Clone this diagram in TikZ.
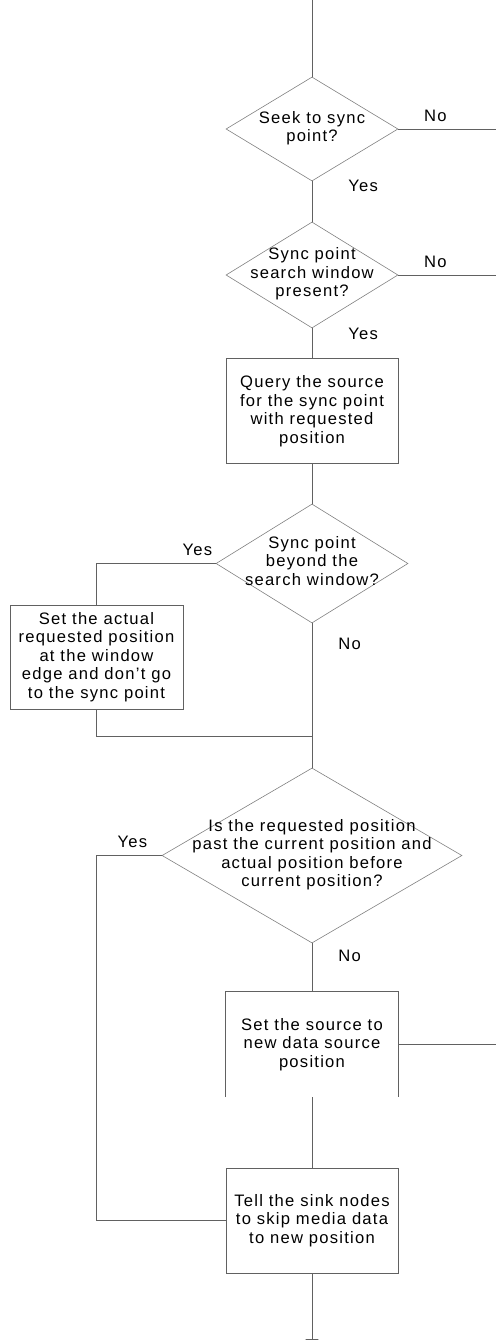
\documentclass[tikz,border=0pt]{standalone}
\usepackage{fontspec}
\setmainfont{Liberation Sans}[LetterSpace=7.5]
\usetikzlibrary{shapes.geometric,arrows.meta}
\definecolor{wire}{gray}{0.38}
\definecolor{rim}{gray}{0.5}
% text inside a diamond, kept from widening the shape
\newcommand{\qtext}[1]{\makebox[0pt]{\smash{\raisebox{-4pt}{\begin{tabular}{@{}c@{}}#1\end{tabular}}}}}

\begin{document}
\begin{tikzpicture}[x=1pt,y=-1pt,
    every node/.style={font=\fontsize{16.6}{18.5}\selectfont},
    test/.style={shape=diamond, draw=rim, line width=0.6pt, inner sep=0pt},
    task/.style={draw=wire, line width=0.8pt, minimum width=172pt, minimum height=105pt, align=center, inner sep=0pt},
    lbl/.style={inner sep=3pt},
    link/.style={draw=wire, line width=0.8pt}]
    \useasboundingbox (0,0) rectangle (496,1340);

    \coordinate (start) at (312,0);
    \node[test, minimum width=172pt, minimum height=104pt] (seek) at (312,129) {\qtext{Seek to sync\\point?}};
    \coordinate (seekno) at (496,129);
    \node[test, minimum width=172pt, minimum height=106pt] (window) at (312,275) {\qtext{Sync point\\search window\\present?}};
    \coordinate (windowno) at (496,275);
    \node[task] (query) at (312,411) {Query the source\\for the sync point\\with requested\\position};
    \node[test, minimum width=192pt, minimum height=119pt] (beyond) at (312,563.5) {\qtext{Sync point\\beyond the\\search window?}};
    \node[task, minimum width=173pt, minimum height=104pt] (edge) at (96.5,657) {Set the actual\\requested position\\at the window\\edge and don't go\\to the sync point};
    \coordinate (merge) at (312,736);
    \node[test, minimum width=300pt, minimum height=175pt] (past) at (312,855.5) {\qtext{Is the requested position\\past the current position and\\actual position before\\current position?}};
    \node[align=center, minimum width=172pt, minimum height=105pt, inner sep=0pt] (setsrc) at (312,1044.5) {Set the source to\\new data source\\position};
    \coordinate (srcout) at (496,1044.5);
    \node[task] (tell) at (312,1220.5) {Tell the sink nodes\\to skip media data\\to new position};
    \coordinate (loop) at (96.5,1220.5);
    \coordinate (stop) at (312,1352);

    \draw[link] (start) -- (seek);
    \draw[link] (seek) -- node[lbl, pos=.38, anchor=south, yshift=4pt]{No} (seekno);
    \draw[link] (seek) -- node[lbl, pos=.12, anchor=west, xshift=33pt]{Yes} (window);
    \draw[link] (window) -- node[lbl, pos=.38, anchor=south, yshift=4pt]{No} (windowno);
    \draw[link] (window) -- node[lbl, pos=.2, anchor=west, xshift=33pt]{Yes} (query);
    \draw[link] (query) -- (beyond);
    \draw[link] (beyond.west) -| node[lbl, pos=.077, anchor=south, yshift=4pt]{Yes} (edge);
    \draw[link] (edge) |- (merge);
    \draw[link] (beyond) -- node[lbl, pos=.145, anchor=west, xshift=23pt]{No} (past);
    \draw[link] (past.west) -| node[lbl, pos=.225, anchor=south, yshift=4pt]{Yes} (loop) -- (tell);
    \draw[link] (past) -- node[lbl, pos=.255, anchor=west, xshift=23pt]{No} (setsrc);
    % box left open at the bottom
    \draw[link] (setsrc.south west) -- (setsrc.north west) -- (setsrc.north east) -- (setsrc.south east);
    \draw[link] (setsrc) -- (srcout);
    \draw[link] (setsrc) -- (tell);
    \draw[link, -{Triangle[width=13pt, length=13pt]}] (tell) -- (stop);

\end{tikzpicture}
\end{document}
